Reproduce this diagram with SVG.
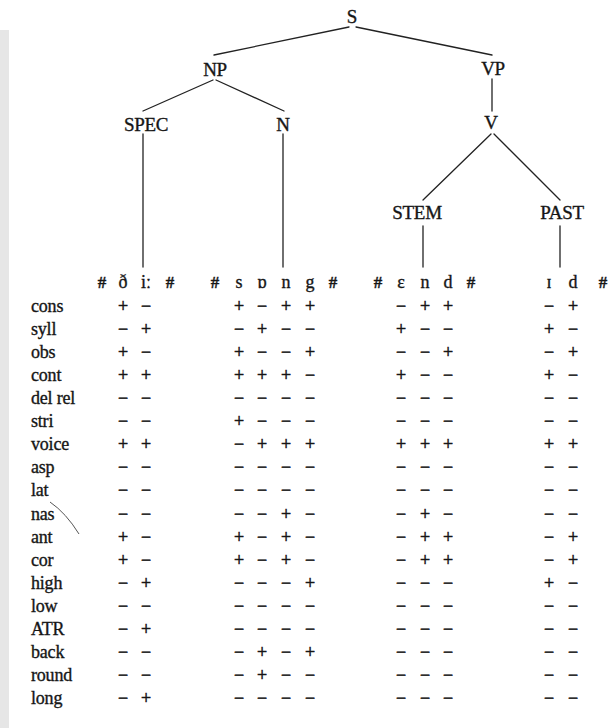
<svg xmlns="http://www.w3.org/2000/svg" width="608" height="728" viewBox="0 0 608 728">
<style>
  text { font-family: "Liberation Serif", "DejaVu Serif", serif; fill: #161616; stroke: #161616; stroke-width: 0.35; }
  .node { font-size: 19px; text-anchor: middle; letter-spacing: -0.3px; }
  .lab { font-size: 18px; letter-spacing: -0.2px; }
  .ph { font-size: 18px; text-anchor: middle; }
  .hash { font-weight: bold; font-size: 17px; }
  .v { font-size: 18px; text-anchor: middle; stroke-width: 0.5; }
  .edge { stroke: #222; stroke-width: 1.3; fill: none; stroke-linecap: round; }
</style>
<rect width="608" height="728" fill="#ffffff"/>
<rect x="0" y="30" width="9" height="698" fill="#e6e6e6"/>

<g id="connectors">
  <line class="edge" x1="349" y1="27" x2="214" y2="55"/>
  <line class="edge" x1="356" y1="27" x2="492" y2="55"/>
  <line class="edge" x1="213" y1="80" x2="143" y2="111"/>
  <line class="edge" x1="216" y1="80" x2="284" y2="111"/>
  <line class="edge" x1="143" y1="134" x2="143" y2="267"/>
  <line class="edge" x1="283" y1="134" x2="283" y2="267" stroke="#555"/>
  <line class="edge" x1="492" y1="79" x2="492" y2="111"/>
  <line class="edge" x1="491" y1="134" x2="423" y2="200"/>
  <line class="edge" x1="494" y1="134" x2="560" y2="200"/>
  <line class="edge" x1="423" y1="226" x2="423" y2="267"/>
  <line class="edge" x1="560" y1="226" x2="560" y2="267"/>
</g>

<g id="node-S"><text class="node" x="352" y="23">S</text></g>
<g id="node-NP"><text class="node" x="215" y="76">NP</text></g>
<g id="node-VP"><text class="node" x="493" y="75">VP</text></g>
<g id="node-SPEC"><text class="node" x="146" y="131">SPEC</text></g>
<g id="node-N"><text class="node" x="283" y="131">N</text></g>
<g id="node-V"><text class="node" x="491" y="129">V</text></g>
<g id="node-STEM"><text class="node" x="417" y="219">STEM</text></g>
<g id="node-PAST"><text class="node" x="562" y="219">PAST</text></g>

<g id="segments">
  <text class="ph hash" x="102" y="288">#</text>
  <text class="ph" x="123" y="288">ð</text>
  <text class="ph" x="146" y="288">iː</text>
  <text class="ph hash" x="170" y="288">#</text>
  <text class="ph hash" x="215" y="288">#</text>
  <text class="ph" x="239" y="288">s</text>
  <text class="ph" x="262" y="288">ɒ</text>
  <text class="ph" x="286" y="288">n</text>
  <text class="ph" x="310" y="288">g</text>
  <text class="ph hash" x="333" y="288">#</text>
  <text class="ph hash" x="378" y="288">#</text>
  <text class="ph" x="401" y="288">ɛ</text>
  <text class="ph" x="425" y="288">n</text>
  <text class="ph" x="448" y="288">d</text>
  <text class="ph hash" x="471" y="288">#</text>
  <text class="ph" x="549" y="288">ɪ</text>
  <text class="ph" x="573" y="288">d</text>
  <text class="ph hash" x="603" y="288">#</text>
</g>

<g id="feature-labels">
  <text class="lab" x="31" y="312">cons</text>
  <text class="lab" x="31" y="335">syll</text>
  <text class="lab" x="31" y="358">obs</text>
  <text class="lab" x="31" y="381">cont</text>
  <text class="lab" x="31" y="404">del rel</text>
  <text class="lab" x="31" y="427">stri</text>
  <text class="lab" x="31" y="450">voice</text>
  <text class="lab" x="31" y="473">asp</text>
  <text class="lab" x="31" y="496">lat</text>
  <text class="lab" x="31" y="520">nas</text>
  <text class="lab" x="31" y="543">ant</text>
  <text class="lab" x="31" y="566">cor</text>
  <text class="lab" x="31" y="589">high</text>
  <text class="lab" x="31" y="612">low</text>
  <text class="lab" x="31" y="635">ATR</text>
  <text class="lab" x="31" y="658">back</text>
  <text class="lab" x="31" y="681">round</text>
  <text class="lab" x="31" y="704">long</text>
</g>

<g id="feature-values">
  <text class="v" x="123 146 239 262 286 310 401 425 448 549 573" y="312">+−+−++−++−+</text>
  <text class="v" x="123 146 239 262 286 310 401 425 448 549 573" y="335">−+−+−−+−−+−</text>
  <text class="v" x="123 146 239 262 286 310 401 425 448 549 573" y="358">+−+−−+−−+−+</text>
  <text class="v" x="123 146 239 262 286 310 401 425 448 549 573" y="381">+++++−+−−+−</text>
  <text class="v" x="123 146 239 262 286 310 401 425 448 549 573" y="404">−−−−−−−−−−−</text>
  <text class="v" x="123 146 239 262 286 310 401 425 448 549 573" y="427">−−+−−−−−−−−</text>
  <text class="v" x="123 146 239 262 286 310 401 425 448 549 573" y="450">++−++++++++</text>
  <text class="v" x="123 146 239 262 286 310 401 425 448 549 573" y="473">−−−−−−−−−−−</text>
  <text class="v" x="123 146 239 262 286 310 401 425 448 549 573" y="496">−−−−−−−−−−−</text>
  <text class="v" x="123 146 239 262 286 310 401 425 448 549 573" y="520">−−−−+−−+−−−</text>
  <text class="v" x="123 146 239 262 286 310 401 425 448 549 573" y="543">+−+−+−−++−+</text>
  <text class="v" x="123 146 239 262 286 310 401 425 448 549 573" y="566">+−+−+−−++−+</text>
  <text class="v" x="123 146 239 262 286 310 401 425 448 549 573" y="589">−+−−−+−−−+−</text>
  <text class="v" x="123 146 239 262 286 310 401 425 448 549 573" y="612">−−−−−−−−−−−</text>
  <text class="v" x="123 146 239 262 286 310 401 425 448 549 573" y="635">−+−−−−−−−−−</text>
  <text class="v" x="123 146 239 262 286 310 401 425 448 549 573" y="658">−−−+−+−−−−−</text>
  <text class="v" x="123 146 239 262 286 310 401 425 448 549 573" y="681">−−−+−−−−−−−</text>
  <text class="v" x="123 146 239 262 286 310 401 425 448 549 573" y="704">−+−−−−−−−−−</text>
</g>

<path d="M50,502 Q66,513 79,534" stroke="#555" stroke-width="1" fill="none"/>
</svg>
